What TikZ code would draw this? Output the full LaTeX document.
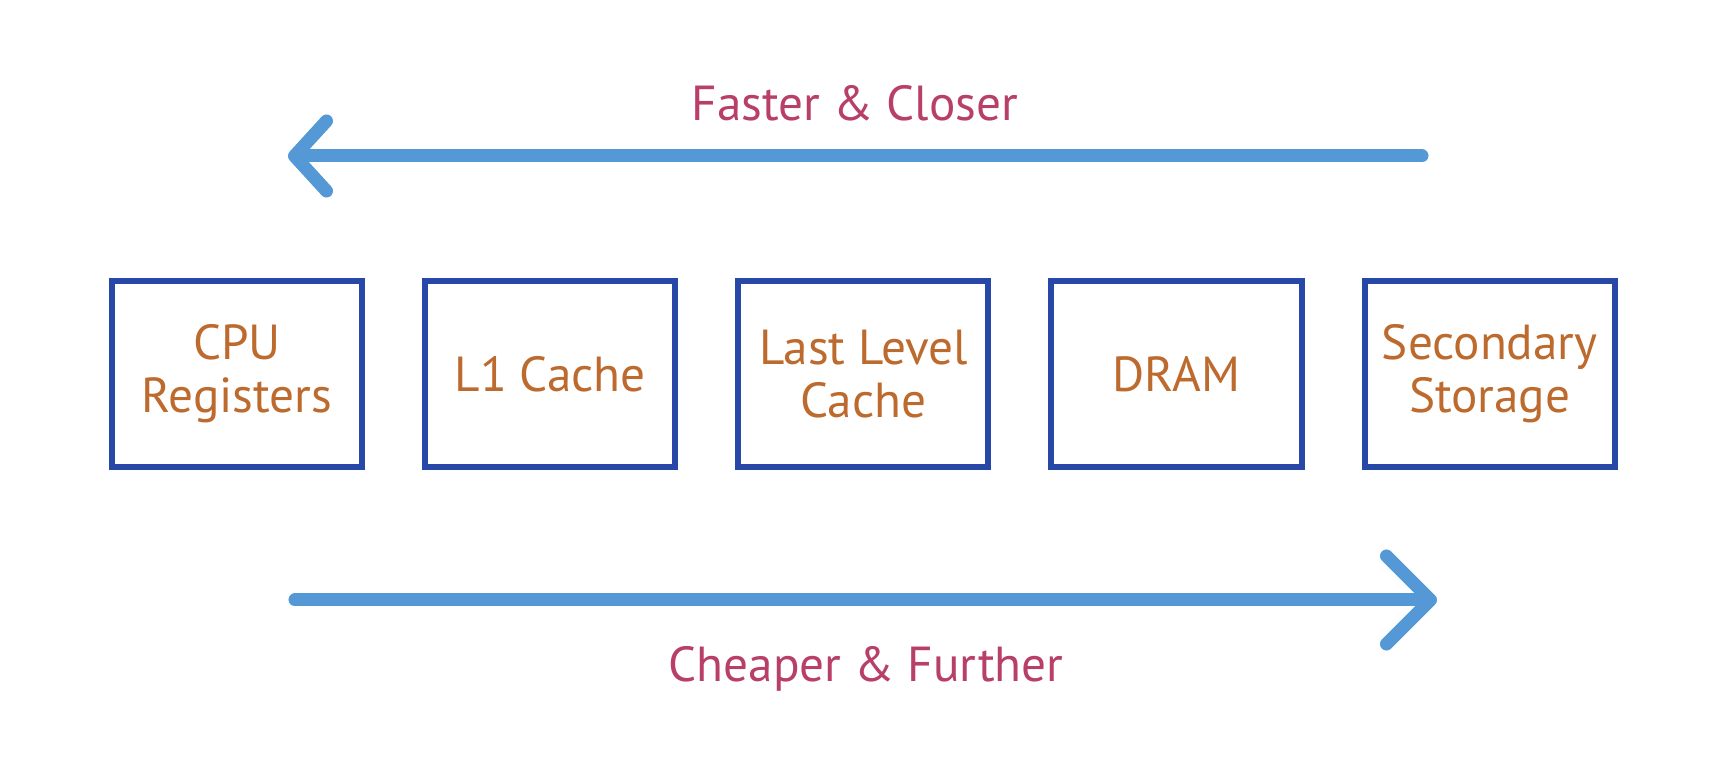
\documentclass[tikz,border=0pt]{standalone}
\usepackage{fontspec}
\setmainfont{PT Sans}
\usetikzlibrary{positioning,arrows.meta}
\definecolor{boxblue}{HTML}{2848A8}
\definecolor{arrowblue}{HTML}{5598D6}
\definecolor{textorange}{HTML}{BC6A2E}
\definecolor{labelpink}{HTML}{B83F68}

\begin{document}
\begin{tikzpicture}[
  x=0.01cm, y=-0.01cm, font=\fontsize{14}{15}\selectfont, node distance=0.57cm,
  level/.style={draw=boxblue, line width=0.06cm, minimum width=2.5cm,
                minimum height=1.85cm, align=center, text=textorange},
  flow/.style={draw=arrowblue, line width=0.13cm, line cap=round, line join=round},
  tag/.style={text=labelpink},
]
  \useasboundingbox (0,0) rectangle (1726,765);

  \node[level] (cpu) at (237,374) {CPU\\Registers};
  \node[level, right=of cpu] (l1) {L1 Cache};
  \node[level, right=of l1] (llc) {Last Level\\Cache};
  \node[level, right=of llc] (dram) {DRAM};
  \node[level, right=of dram] (disk) {Secondary\\Storage};

  \coordinate (fastS) at (1422,156);
  \coordinate (fastE) at (288,156);
  \coordinate (cheapS) at (295,600);
  \coordinate (cheapE) at (1437,600);

  \draw[flow, -{Straight Barb[length=0.32cm, width=0.7cm, round]}]
        (fastS) -- node[tag, above=0.17cm] {Faster \& Closer} (fastE);
  \draw[flow, -{Straight Barb[length=0.44cm, width=0.88cm, round]}]
        (cheapS) -- node[tag, below=0.28cm] {Cheaper \& Further} (cheapE);
\end{tikzpicture}
\end{document}
